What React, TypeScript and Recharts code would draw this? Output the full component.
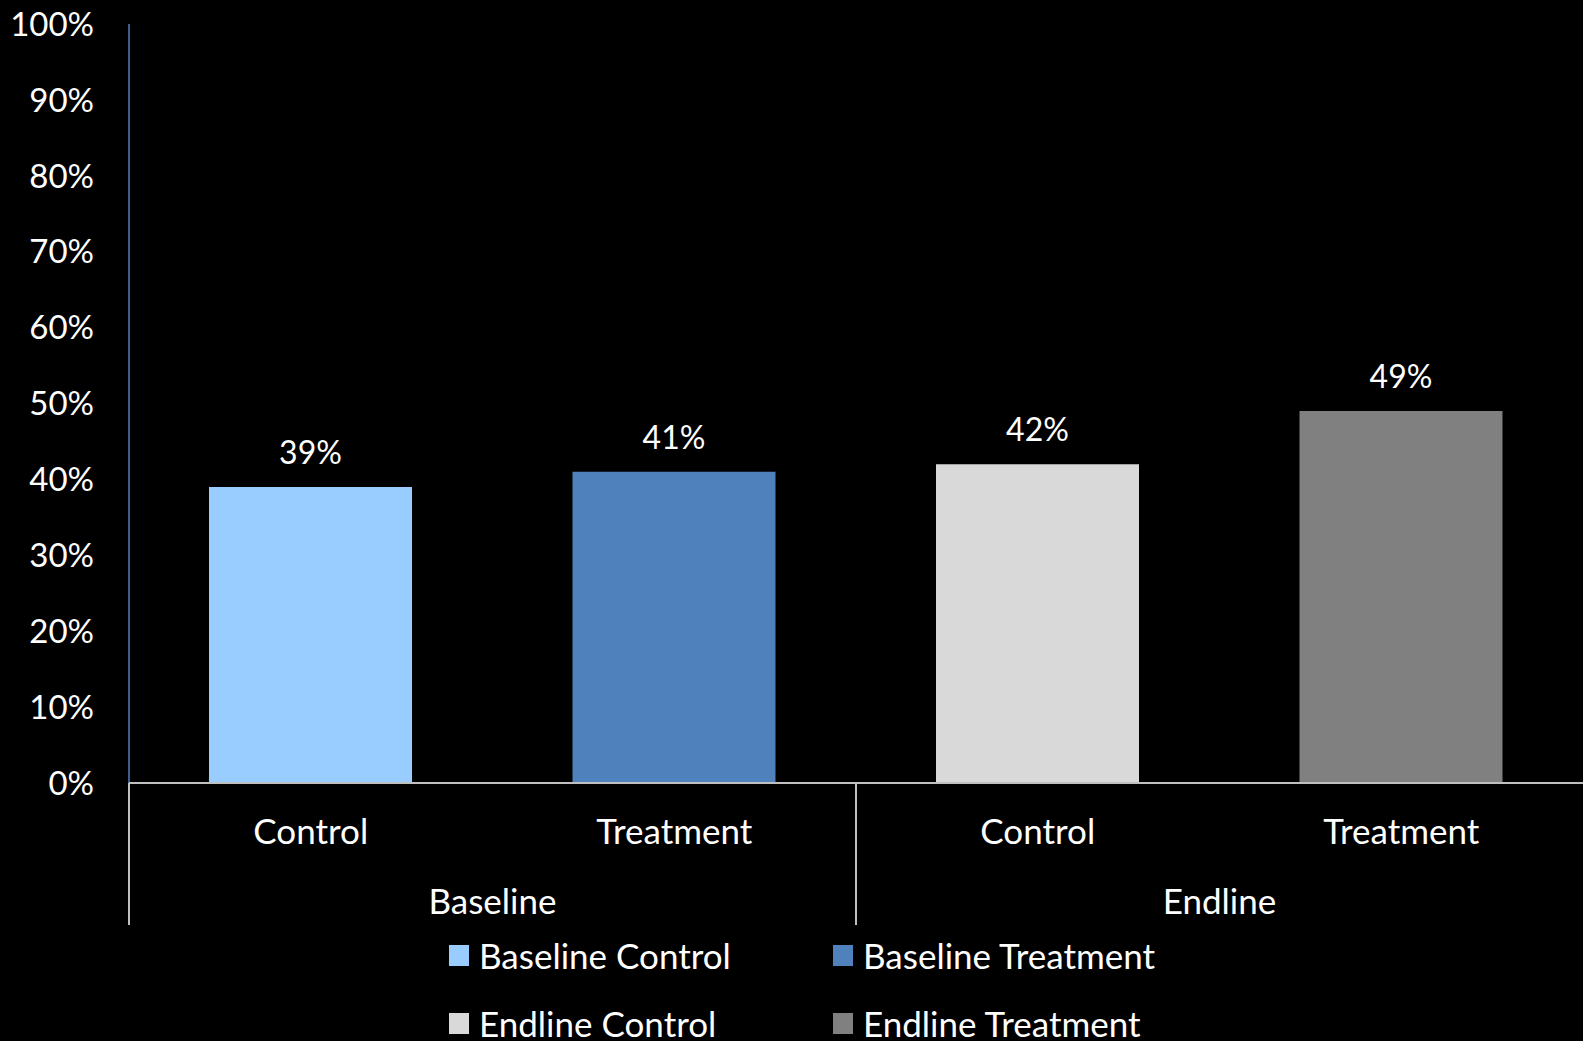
import React from "react";
import { BarChart, Bar, XAxis, YAxis, Cell, LabelList, Legend } from "recharts";

const categories = ["Control", "Treatment", "Control", "Treatment"];
const groups = ["Baseline", "Baseline", "Endline", "Endline"];
const seriesNames = ["Baseline Control", "Baseline Treatment", "Endline Control", "Endline Treatment"];
const values = [0.39, 0.41, 0.42, 0.49];
const colors = ["#99CCFF", "#4F81BD", "#D9D9D9", "#808080"];
const yTicks = [0, 0.1, 0.2, 0.3, 0.4, 0.5, 0.6, 0.7, 0.8, 0.9, 1];

const W = 1583;
const H = 1041;
const Y_AXIS_W = 129;
const PLOT_W = W - Y_AXIS_W;
const BAND = PLOT_W / categories.length;
const FONT = "Lato, 'Open Sans', sans-serif";
const FS = 32;
const FS_TXT = 35;
const GRID_GREY = "#BFBFBF";

const data = categories.map((c, i) => ({ cat: c, group: groups[i], value: values[i] }));

const pct = (v: any) => `${Math.round(Number(v) * 100)}%`;

const CatTick = (props: any) => {
  const { x, y, payload } = props;
  const i = payload.index;
  const showGroup = i === 0 || groups[i] !== groups[i - 1];
  return (
    <g>
      <text x={x} y={y + 61} textAnchor="middle" fill="#fff" fontSize={FS_TXT} fontFamily={FONT}>
        {payload.value}
      </text>
      {showGroup && (
        <>
          <line x1={x - BAND / 2} x2={x - BAND / 2} y1={y} y2={y + 142} stroke={GRID_GREY} strokeWidth={2} />
          <text x={x + BAND / 2} y={y + 131} textAnchor="middle" fill="#fff" fontSize={FS_TXT} fontFamily={FONT}>
            {groups[i]}
          </text>
        </>
      )}
    </g>
  );
};

const LegendContent = () => {
  const cols = [449, 833];
  const rows = [20, 88];
  return (
    <div style={{ position: "relative", width: W, height: 116 }}>
      {seriesNames.map((name, i) => (
        <div
          key={name}
          style={{
            position: "absolute",
            left: cols[i % 2],
            top: rows[Math.floor(i / 2)],
            height: 21,
            display: "flex",
            alignItems: "center",
            whiteSpace: "nowrap",
          }}
        >
          <div style={{ width: 20, height: 21, background: colors[i], marginRight: 10 }} />
          <span style={{ color: "#fff", fontSize: FS_TXT, fontFamily: FONT, lineHeight: "21px" }}>{name}</span>
        </div>
      ))}
    </div>
  );
};

export default function App() {
  return (
    <div style={{ position: "absolute", left: 0, top: 0, width: W, height: H, background: "#000" }}>
      <BarChart width={W} height={H} data={data} margin={{ top: 24, right: 0, left: 0, bottom: 0 }}>
        <YAxis
          domain={[0, 1]}
          ticks={yTicks}
          tickFormatter={pct}
          width={Y_AXIS_W}
          tickLine={false}
          tickSize={0}
          tickMargin={35}
          axisLine={{ stroke: "#4F81BD", strokeWidth: 1.5 }}
          tick={{ fill: "#fff", fontSize: 33, fontFamily: FONT }}
          interval={0}
        />
        <XAxis
          dataKey="cat"
          height={142}
          tickLine={false}
          tickSize={0}
          tickMargin={0}
          interval={0}
          axisLine={{ stroke: GRID_GREY, strokeWidth: 2 }}
          tick={<CatTick />}
        />
        <Legend verticalAlign="bottom" content={<LegendContent />} />
        <Bar dataKey="value" barSize={203} isAnimationActive={false}>
          {data.map((d, i) => (
            <Cell key={i} fill={colors[i]} />
          ))}
          <LabelList
            dataKey="value"
            position="top"
            offset={23}
            formatter={pct}
            fill="#fff"
            style={{ fontSize: FS, fontFamily: FONT }}
          />
        </Bar>
      </BarChart>
    </div>
  );
}
